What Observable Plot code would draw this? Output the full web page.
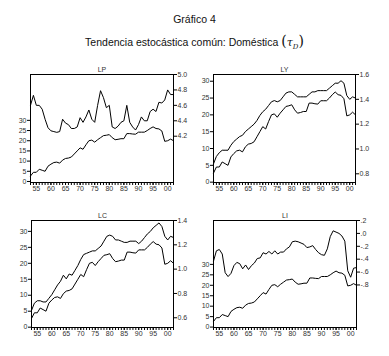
<!DOCTYPE html>
<html><head><meta charset="utf-8">
<script src="https://cdn.jsdelivr.net/npm/d3@7"></script>
<script src="https://cdn.jsdelivr.net/npm/@observablehq/plot@0.6"></script>
<style>
body{margin:0;background:#fff;font-family:"Liberation Sans",Arial,sans-serif;}
#root{position:relative;width:389px;height:356px;overflow:hidden;background:#fff;}
.t{position:absolute;left:0;width:389px;text-align:center;font-size:10.5px;color:#111;white-space:nowrap;}
.tau{font-family:"DejaVu Serif","Liberation Serif",serif;font-style:italic;font-size:11px;}
.par{font-family:"DejaVu Serif","Liberation Serif",serif;font-size:14px;}
.p{position:absolute;}
.p svg{position:absolute;left:0;top:0;}
</style></head>
<body>
<div id="root">
  <div class="t" style="top:13px;">Gráfico 4</div>
  <div class="t" style="top:33px;">Tendencia estocástica común: Doméstica <span class="par">(</span><span class="tau">τ<sub style="font-size:7px">D</sub></span><span class="par">)</span></div>
</div>
<script>
const years = [1953,1954,1955,1956,1957,1958,1959,1960,1961,1962,1963,1964,1965,1966,1967,1968,1969,1970,1971,1972,1973,1974,1975,1976,1977,1978,1979,1980,1981,1982,1983,1984,1985,1986,1987,1988,1989,1990,1991,1992,1993,1994,1995,1996,1997,1998,1999,2000,2001,2002];
const yearLabels = [1955,1960,1965,1970,1975,1980,1985,1990,1995,2000];
// common stochastic trend (left axis)
const trend = [2.7,4.5,4.5,6.0,5.5,5.0,7.5,8.5,9.3,9.5, 9.0,10.5,11.3,11.5,12.0,13.5,15.0,16.5,15.8,18.0, 20.0,20.3,19.3,20.5,21.5,22.5,22.7,23.0,21.5,20.5, 20.7,21.0,21.0,23.5,23.5,23.3,23.2,24.2,24.2,24.2, 25.0,26.0,26.8,26.0,25.8,24.8,19.7,20.0,20.8,20.0];
// series (right axis)
const LP = [4.60,4.73,4.60,4.60,4.55,4.42,4.31,4.27,4.26,4.25, 4.26,4.42,4.37,4.35,4.30,4.30,4.32,4.44,4.38,4.45, 4.54,4.42,4.38,4.60,4.79,4.70,4.57,4.60,4.32,4.30, 4.33,4.38,4.40,4.60,4.38,4.32,4.28,4.35,4.45,4.40, 4.40,4.52,4.55,4.52,4.64,4.63,4.67,4.80,4.74,4.74];
const LY = [0.88,0.94,0.97,0.99,0.99,0.99,1.03,1.06,1.08,1.10, 1.11,1.14,1.16,1.18,1.20,1.23,1.27,1.30,1.32,1.35, 1.38,1.39,1.38,1.39,1.42,1.45,1.46,1.46,1.44,1.42, 1.42,1.42,1.42,1.44,1.46,1.46,1.47,1.47,1.47,1.47, 1.49,1.51,1.53,1.53,1.55,1.53,1.43,1.40,1.42,1.41];
const LC = [0.66,0.72,0.74,0.74,0.73,0.73,0.76,0.79,0.83,0.87, 0.90,0.95,0.92,0.96,0.95,0.99,1.03,1.08,1.12,1.13, 1.14,1.15,1.15,1.17,1.19,1.23,1.27,1.28,1.27,1.24, 1.24,1.23,1.22,1.22,1.23,1.23,1.23,1.21,1.23,1.26, 1.29,1.31,1.34,1.36,1.38,1.35,1.27,1.24,1.27,1.26];
const LI = [-0.43,-0.27,-0.25,-0.32,-0.61,-0.67,-0.62,-0.50,-0.45,-0.47, -0.55,-0.49,-0.56,-0.50,-0.46,-0.39,-0.38,-0.30,-0.32,-0.28, -0.32,-0.27,-0.32,-0.29,-0.29,-0.24,-0.21,-0.13,-0.12,-0.13, -0.15,-0.17,-0.22,-0.21,-0.19,-0.25,-0.30,-0.33,-0.34,-0.24, -0.05,0.04,0.02,0.00,-0.04,-0.12,-0.58,-0.68,-0.54,-0.53];
const leftTicks = [0,5,10,15,20,25,30];
const ticksLP = [4.2,4.4,4.6,4.8,5.0];
const ticksLY = [0.8,1.0,1.2,1.4,1.6];
const ticksLC = [0.6,0.8,1.0,1.2,1.4];
const ticksLI = [-0.8,-0.6,-0.4,-0.2,0,0.2];

const f1 = d3.format(".1f");
const fDot = d => (d < 0 ? "-" : "") + "." + Math.round(Math.abs(d) * 10);

const panels = [
  {title:"LP", s:LP, left:30, top:74, w:143, h:108, yL:[-0.5,52.5], yR:[3.6,5.0], tR:ticksLP, fR:f1},
  {title:"LY", s:LY, left:213, top:74, w:142, h:108, yL:[-0.1,32], yR:[0.73,1.6], tR:ticksLY, fR:f1},
  {title:"LC", s:LC, left:31, top:220, w:142, h:107, yL:[-0.1,33.4], yR:[0.52,1.4], tR:ticksLC, fR:f1},
  {title:"LI", s:LI, left:213, top:220, w:143, h:107, yL:[-0.2,51], yR:[-1.46,0.2], tR:ticksLI, fR:fDot}
];

const root = document.getElementById("root");
const mL = 28, mR = 28, mT = 14, mB = 14;
const style = {fontFamily:"'Liberation Sans',Arial,sans-serif", fontSize:"7px", color:"#333", background:"transparent", overflow:"visible"};

for (const p of panels) {
  const W = mL + p.w + mR, H = mT + p.h + mB;
  const div = document.createElement("div");
  div.className = "p";
  div.style.left = (p.left - mL) + "px";
  div.style.top = (p.top - mT) + "px";
  div.style.width = W + "px";
  div.style.height = H + "px";
  const tData = years.map((y, i) => ({year: y, v: trend[i]}));
  const sData = years.map((y, i) => ({year: y, v: p.s[i]}));
  const common = {width: W, height: H, marginLeft: mL, marginRight: mR, marginTop: mT, marginBottom: mB, style};
  const a = Plot.plot({...common,
    x: {type: "linear", domain: [1953, 2002], label: null},
    y: {domain: p.yL, label: null},
    marks: [
      Plot.axisX({ticks: years, tickSize: 3, stroke: "#000", tickFormat: () => "", label: null}),
      Plot.axisX({ticks: yearLabels, tickSize: 3, stroke: "#000", tickPadding: 1, fill: "#333", label: null, tickFormat: d => String(d % 100).padStart(2, "0")}),
      Plot.axisY({ticks: leftTicks, tickSize: 3, stroke: "#000", tickPadding: 1, fill: "#333", label: null}),
      Plot.line(tData, {x: "year", y: "v", stroke: "#000", strokeWidth: 1}),
      Plot.frame({stroke: "#000", strokeWidth: 1}),
      Plot.text([p.title], {frameAnchor: "top", dy: -7, text: d => d, fill: "#333"})
    ]});
  const b = Plot.plot({...common,
    x: {type: "linear", domain: [1953, 2002], axis: null},
    y: {domain: p.yR, label: null},
    marks: [
      Plot.axisY({anchor: "right", ticks: p.tR, tickFormat: p.fR, tickSize: 3, stroke: "#000", tickPadding: 1, fill: "#333", label: null}),
      Plot.line(sData, {x: "year", y: "v", stroke: "#000", strokeWidth: 1})
    ]});
  div.appendChild(a);
  div.appendChild(b);
  root.appendChild(div);
}
</script>
</body></html>
